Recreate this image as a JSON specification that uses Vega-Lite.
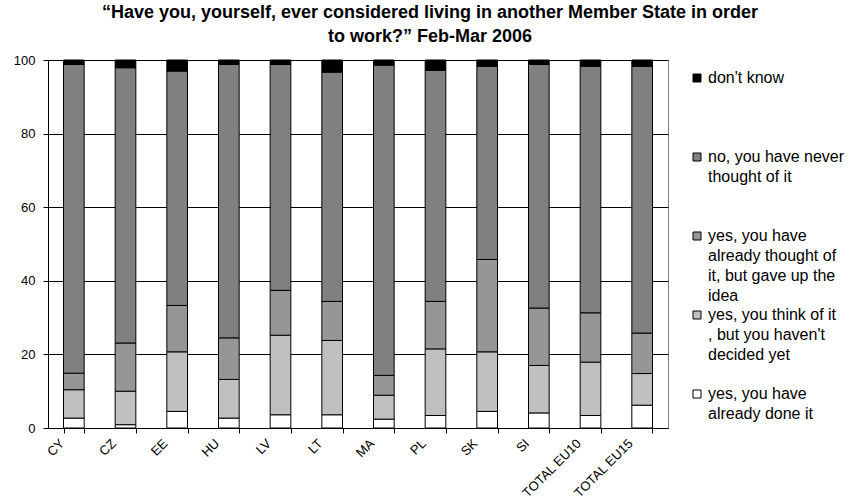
{
  "$schema": "https://vega.github.io/schema/vega-lite/v6.json",
  "autosize": "none",
  "width": 620,
  "height": 368,
  "padding": {"left": 48, "top": 60, "right": 187, "bottom": 75},
  "background": "white",
  "title": {
    "text": ["“Have you, yourself, ever considered living in another Member State in order", "to work?” Feb-Mar 2006"],
    "font": "Liberation Sans",
    "fontSize": 18,
    "fontWeight": "bold",
    "color": "black",
    "lineHeight": 24,
    "anchor": "middle",
    "dx": 72,
    "offset": 8
  },
  "data": {
    "values": [
      {"country": "CY", "answer": "yes, you have already done it", "pct": 2.7},
      {"country": "CY", "answer": "yes, you think of it , but you haven't decided yet", "pct": 7.7},
      {"country": "CY", "answer": "yes, you have already thought of it, but gave up the idea", "pct": 4.5},
      {"country": "CY", "answer": "no, you have never thought of it", "pct": 83.9},
      {"country": "CY", "answer": "don't know", "pct": 1.2},
      {"country": "CZ", "answer": "yes, you have already done it", "pct": 0.9},
      {"country": "CZ", "answer": "yes, you think of it , but you haven't decided yet", "pct": 9.1},
      {"country": "CZ", "answer": "yes, you have already thought of it, but gave up the idea", "pct": 13.1},
      {"country": "CZ", "answer": "no, you have never thought of it", "pct": 74.8},
      {"country": "CZ", "answer": "don't know", "pct": 2.1},
      {"country": "EE", "answer": "yes, you have already done it", "pct": 4.5},
      {"country": "EE", "answer": "yes, you think of it , but you haven't decided yet", "pct": 16.2},
      {"country": "EE", "answer": "yes, you have already thought of it, but gave up the idea", "pct": 12.6},
      {"country": "EE", "answer": "no, you have never thought of it", "pct": 63.7},
      {"country": "EE", "answer": "don't know", "pct": 3.0},
      {"country": "HU", "answer": "yes, you have already done it", "pct": 2.7},
      {"country": "HU", "answer": "yes, you think of it , but you haven't decided yet", "pct": 10.5},
      {"country": "HU", "answer": "yes, you have already thought of it, but gave up the idea", "pct": 11.3},
      {"country": "HU", "answer": "no, you have never thought of it", "pct": 74.3},
      {"country": "HU", "answer": "don't know", "pct": 1.2},
      {"country": "LV", "answer": "yes, you have already done it", "pct": 3.6},
      {"country": "LV", "answer": "yes, you think of it , but you haven't decided yet", "pct": 21.6},
      {"country": "LV", "answer": "yes, you have already thought of it, but gave up the idea", "pct": 12.2},
      {"country": "LV", "answer": "no, you have never thought of it", "pct": 61.4},
      {"country": "LV", "answer": "don't know", "pct": 1.2},
      {"country": "LT", "answer": "yes, you have already done it", "pct": 3.6},
      {"country": "LT", "answer": "yes, you think of it , but you haven't decided yet", "pct": 20.2},
      {"country": "LT", "answer": "yes, you have already thought of it, but gave up the idea", "pct": 10.6},
      {"country": "LT", "answer": "no, you have never thought of it", "pct": 62.3},
      {"country": "LT", "answer": "don't know", "pct": 3.3},
      {"country": "MA", "answer": "yes, you have already done it", "pct": 2.4},
      {"country": "MA", "answer": "yes, you think of it , but you haven't decided yet", "pct": 6.5},
      {"country": "MA", "answer": "yes, you have already thought of it, but gave up the idea", "pct": 5.4},
      {"country": "MA", "answer": "no, you have never thought of it", "pct": 84.3},
      {"country": "MA", "answer": "don't know", "pct": 1.4},
      {"country": "PL", "answer": "yes, you have already done it", "pct": 3.4},
      {"country": "PL", "answer": "yes, you think of it , but you haven't decided yet", "pct": 18.1},
      {"country": "PL", "answer": "yes, you have already thought of it, but gave up the idea", "pct": 12.9},
      {"country": "PL", "answer": "no, you have never thought of it", "pct": 62.8},
      {"country": "PL", "answer": "don't know", "pct": 2.8},
      {"country": "SK", "answer": "yes, you have already done it", "pct": 4.5},
      {"country": "SK", "answer": "yes, you think of it , but you haven't decided yet", "pct": 16.2},
      {"country": "SK", "answer": "yes, you have already thought of it, but gave up the idea", "pct": 25.1},
      {"country": "SK", "answer": "no, you have never thought of it", "pct": 52.5},
      {"country": "SK", "answer": "don't know", "pct": 1.7},
      {"country": "SI", "answer": "yes, you have already done it", "pct": 4.1},
      {"country": "SI", "answer": "yes, you think of it , but you haven't decided yet", "pct": 12.9},
      {"country": "SI", "answer": "yes, you have already thought of it, but gave up the idea", "pct": 15.6},
      {"country": "SI", "answer": "no, you have never thought of it", "pct": 66.2},
      {"country": "SI", "answer": "don't know", "pct": 1.2},
      {"country": "TOTAL EU10", "answer": "yes, you have already done it", "pct": 3.4},
      {"country": "TOTAL EU10", "answer": "yes, you think of it , but you haven't decided yet", "pct": 14.5},
      {"country": "TOTAL EU10", "answer": "yes, you have already thought of it, but gave up the idea", "pct": 13.4},
      {"country": "TOTAL EU10", "answer": "no, you have never thought of it", "pct": 67.0},
      {"country": "TOTAL EU10", "answer": "don't know", "pct": 1.7},
      {"country": "TOTAL EU15", "answer": "yes, you have already done it", "pct": 6.2},
      {"country": "TOTAL EU15", "answer": "yes, you think of it , but you haven't decided yet", "pct": 8.6},
      {"country": "TOTAL EU15", "answer": "yes, you have already thought of it, but gave up the idea", "pct": 11.0},
      {"country": "TOTAL EU15", "answer": "no, you have never thought of it", "pct": 72.5},
      {"country": "TOTAL EU15", "answer": "don't know", "pct": 1.7}
    ]
  },
  "transform": [
    {"calculate": "indexof(['yes, you have already done it', 'yes, you think of it , but you haven\\'t decided yet', 'yes, you have already thought of it, but gave up the idea', 'no, you have never thought of it', 'don\\'t know'], datum.answer)", "as": "stackOrder"}
  ],
  "mark": {"type": "bar", "stroke": "black", "strokeWidth": 1},
  "encoding": {
    "x": {
      "field": "country",
      "type": "nominal",
      "sort": null,
      "scale": {"paddingInner": 0.6, "paddingOuter": 0.3},
      "axis": {
        "title": null,
        "tickBand": "extent",
        "labelAngle": -45,
        "labelAlign": "right",
        "labelBaseline": "middle",
        "labelOffset": -12,
        "labelPadding": 8,
        "tickSize": 5,
        "tickColor": "black",
        "domainColor": "black",
        "labelFont": "Liberation Sans",
        "labelFontSize": 13,
        "labelColor": "black",
        "grid": false
      }
    },
    "y": {
      "field": "pct",
      "type": "quantitative",
      "stack": "zero",
      "scale": {"domain": [0, 100], "nice": false},
      "axis": {
        "title": null,
        "values": [0, 20, 40, 60, 80, 100],
        "tickSize": 5,
        "tickColor": "black",
        "domainColor": "black",
        "labelPadding": 8,
        "labelFont": "Liberation Sans",
        "labelFontSize": 13,
        "labelColor": "black",
        "grid": true,
        "gridColor": "black",
        "gridOpacity": 1
      }
    },
    "order": {"field": "stackOrder", "type": "quantitative", "sort": "ascending"},
    "color": {
      "field": "answer",
      "type": "nominal",
      "scale": {
        "domain": ["don't know", "no, you have never thought of it", "yes, you have already thought of it, but gave up the idea", "yes, you think of it , but you haven't decided yet", "yes, you have already done it"],
        "range": ["#000000", "#808080", "#969696", "#c0c0c0", "#ffffff"]
      },
      "legend": {
        "title": null,
        "orient": "none",
        "legendX": 641,
        "legendY": 10,
        "padding": 0,
        "gridAlign": "all",
        "rowPadding": 3,
        "symbolType": "square",
        "symbolSize": 64,
        "symbolStrokeColor": "black",
        "symbolStrokeWidth": 1,
        "symbolOpacity": 1,
        "labelFont": "Liberation Sans",
        "labelFontSize": 16,
        "labelColor": "black",
        "labelOffset": 3,
        "labelLimit": 200,
        "labelBaseline": "top",
        "labelExpr": "({'don\\'t know': ['don\\'t know'], 'no, you have never thought of it': ['no, you have never', 'thought of it'], 'yes, you have already thought of it, but gave up the idea': ['yes, you have', 'already thought of', 'it, but gave up the', 'idea'], 'yes, you think of it , but you haven\\'t decided yet': ['yes, you think of it', ', but you haven\\'t', 'decided yet'], 'yes, you have already done it': ['yes, you have', 'already done it']})[datum.label]",
        "encode": {
          "labels": {"update": {"lineHeight": {"value": 20}, "dy": {"value": -8}}}
        }
      }
    }
  },
  "config": {
    "view": {"stroke": "#808080", "strokeWidth": 1},
    "font": "Liberation Sans"
  }
}
